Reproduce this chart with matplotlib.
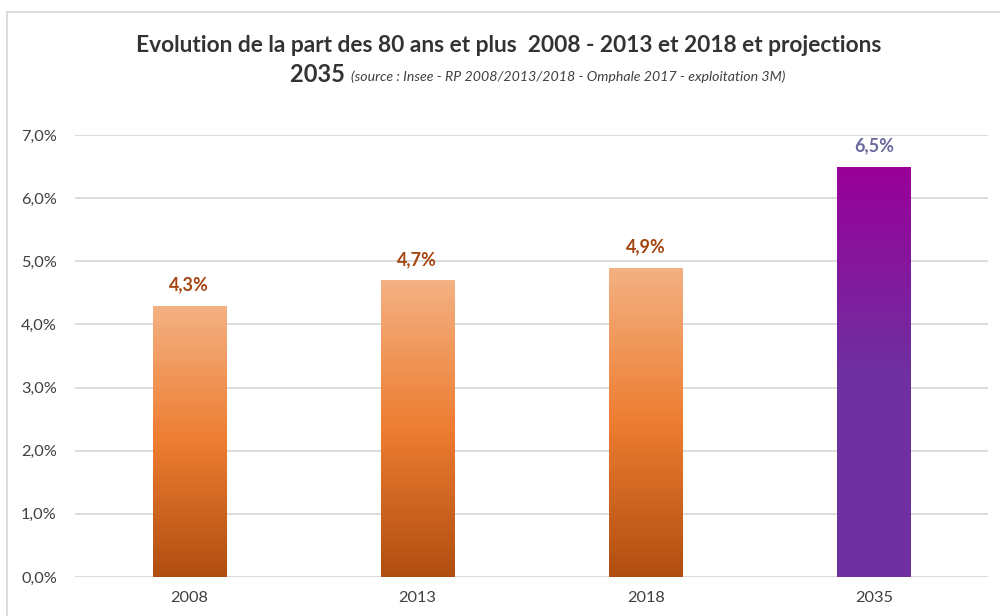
import numpy as np
import matplotlib
matplotlib.use("Agg")
import matplotlib.pyplot as plt
from matplotlib.colors import LinearSegmentedColormap

plt.rcParams['font.family'] = ['Lato', 'DejaVu Sans']

years = ["2008", "2013", "2018", "2035"]
shares = [4.3, 4.7, 4.9, 6.5]
labels = ["4,3%", "4,7%", "4,9%", "6,5%"]
yticks = [0, 1, 2, 3, 4, 5, 6, 7]
ytick_labels = ["0,0%", "1,0%", "2,0%", "3,0%", "4,0%", "5,0%", "6,0%", "7,0%"]

orange = LinearSegmentedColormap.from_list("orange", ["#B04E10", "#ED7D31", "#F4B183"])
purple = LinearSegmentedColormap.from_list("purple", ["#7030A0", "#6F30A0", "#990099"])

fig = plt.figure(figsize=(10, 6.16), dpi=100)
ax = fig.add_axes([0.075, 0.0633, 0.913, 0.7175])

x = np.arange(len(years))
bars = ax.bar(x, shares, width=0.32, color="none", edgecolor="none", zorder=2)

grad = np.linspace(0, 1, 256).reshape(-1, 1)
for i, b in enumerate(bars):
    cmap = purple if years[i] == "2035" else orange
    x0, w, h = b.get_x(), b.get_width(), b.get_height()
    im = ax.imshow(grad, cmap=cmap, origin="lower", aspect="auto",
                   extent=[x0, x0 + w, 0, h], zorder=2)
    im.set_clip_path(b)
    col = "#6A6A9E" if years[i] == "2035" else "#A5450F"
    ax.text(x[i], h + 0.33, labels[i], ha="center", va="center",
            fontsize=13, fontweight="bold", color=col)

ax.set_xlim(-0.5, len(years) - 0.5)
ax.set_ylim(0, 7)
ax.set_yticks(yticks)
ax.set_yticklabels(ytick_labels)
ax.set_xticks(x)
ax.set_xticklabels(years)
ax.tick_params(axis="both", length=0, labelsize=11.8, labelcolor="#404040")
ax.tick_params(axis="y", pad=13)
ax.tick_params(axis="x", pad=10)
ax.grid(axis="y", color="#D9D9D9", linewidth=1.3, zorder=0)
ax.set_axisbelow(True)
for s in ax.spines.values():
    s.set_visible(False)

# chart border
fig.add_artist(plt.Line2D([0.007, 0.007], [0, 1 - 12 / 616], color="#D9D9D9", linewidth=1.3))
fig.add_artist(plt.Line2D([0.007, 1], [1 - 12 / 616, 1 - 12 / 616], color="#D9D9D9", linewidth=1.3))

fig.text(0.509, 1 - 45 / 616, "Evolution de la part des 80 ans et plus  2008 - 2013 et 2018 et projections",
         ha="center", va="center", fontsize=16.4, fontweight="bold", color="#333333")
t1 = fig.text(0.29, 1 - 75 / 616, "2035 ", ha="left", va="center",
              fontsize=17, fontweight="bold", color="#333333")
fig.canvas.draw()
bb = t1.get_window_extent()
fig.text(bb.x1 / fig.bbox.width, 1 - 77 / 616,
         "(source : Insee - RP 2008/2013/2018 - Omphale 2017 - exploitation 3M)",
         ha="left", va="center", fontsize=10.2, style="italic", color="#404040")

fig.savefig("out.png", dpi=100)
